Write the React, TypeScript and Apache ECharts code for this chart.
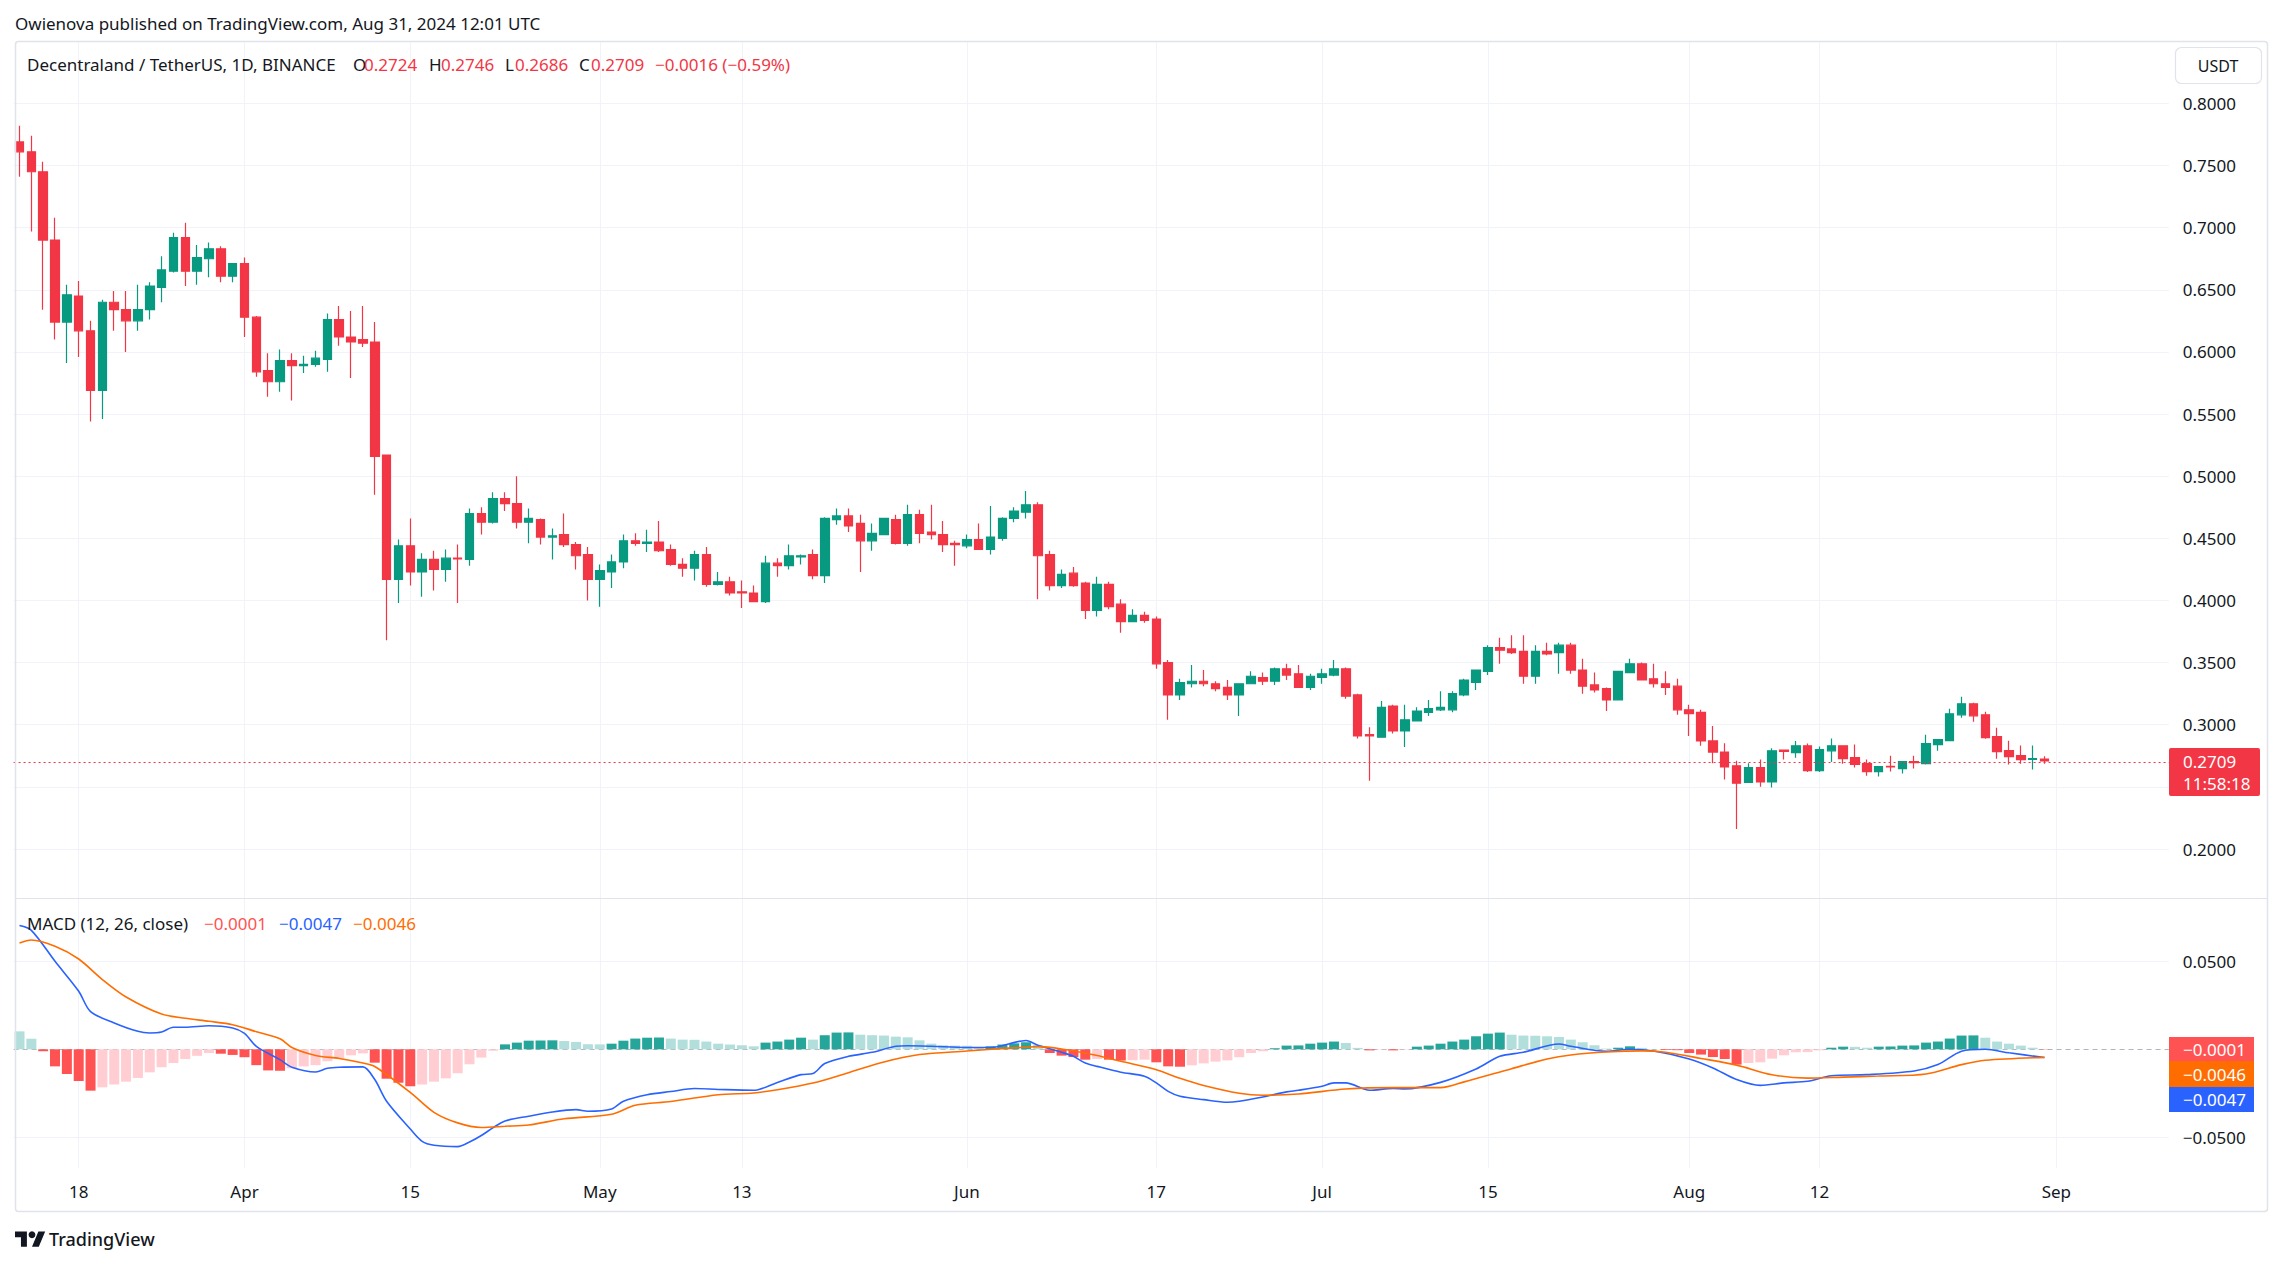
import React, { useEffect, useRef } from 'react';
import * as echarts from 'echarts';

// ---------------- DATA ----------------
const startDate = '2024-03-13';
const emptyDaysAfter = 10;

// daily candles [open, high, low, close]
const ohlc: number[][] = [
  [0.769, 0.782, 0.741, 0.761], [0.761, 0.774, 0.697, 0.745], [0.745, 0.753, 0.634, 0.690], [0.690, 0.708, 0.610, 0.624],
  [0.624, 0.654, 0.591, 0.646], [0.645, 0.657, 0.596, 0.617], [0.617, 0.625, 0.544, 0.569], [0.569, 0.642, 0.546, 0.640],
  [0.640, 0.649, 0.617, 0.634], [0.634, 0.649, 0.600, 0.625], [0.625, 0.654, 0.617, 0.634], [0.634, 0.656, 0.626, 0.653],
  [0.652, 0.677, 0.640, 0.666], [0.665, 0.696, 0.664, 0.692], [0.692, 0.704, 0.653, 0.665], [0.665, 0.686, 0.654, 0.676],
  [0.675, 0.688, 0.660, 0.683], [0.683, 0.685, 0.656, 0.661], [0.661, 0.671, 0.656, 0.671], [0.671, 0.676, 0.612, 0.628],
  [0.628, 0.629, 0.580, 0.584], [0.585, 0.599, 0.564, 0.576], [0.576, 0.602, 0.568, 0.593], [0.593, 0.599, 0.561, 0.589],
  [0.589, 0.597, 0.583, 0.590], [0.590, 0.601, 0.588, 0.595], [0.594, 0.631, 0.584, 0.626], [0.626, 0.637, 0.605, 0.612],
  [0.612, 0.633, 0.579, 0.608], [0.610, 0.637, 0.604, 0.607], [0.608, 0.624, 0.485, 0.516], [0.517, 0.517, 0.368, 0.417],
  [0.417, 0.449, 0.398, 0.444], [0.444, 0.466, 0.412, 0.423], [0.423, 0.438, 0.403, 0.433], [0.433, 0.440, 0.408, 0.425],
  [0.425, 0.441, 0.415, 0.434], [0.434, 0.445, 0.398, 0.4335], [0.433, 0.474, 0.428, 0.470], [0.470, 0.475, 0.453, 0.463],
  [0.463, 0.487, 0.462, 0.482], [0.482, 0.487, 0.472, 0.478], [0.478, 0.500, 0.458, 0.463], [0.463, 0.474, 0.446, 0.466],
  [0.465, 0.466, 0.445, 0.451], [0.451, 0.458, 0.433, 0.452], [0.453, 0.470, 0.443, 0.445], [0.445, 0.447, 0.425, 0.436],
  [0.437, 0.443, 0.400, 0.417], [0.417, 0.429, 0.395, 0.424], [0.423, 0.437, 0.410, 0.431], [0.431, 0.453, 0.426, 0.448],
  [0.448, 0.454, 0.444, 0.446], [0.446, 0.457, 0.439, 0.447], [0.447, 0.464, 0.439, 0.440], [0.441, 0.445, 0.428, 0.429],
  [0.429, 0.434, 0.419, 0.426], [0.426, 0.440, 0.416, 0.437], [0.437, 0.443, 0.411, 0.413], [0.413, 0.423, 0.412, 0.415],
  [0.415, 0.419, 0.404, 0.406], [0.407, 0.416, 0.394, 0.406], [0.406, 0.412, 0.399, 0.399], [0.399, 0.436, 0.398, 0.430],
  [0.430, 0.434, 0.419, 0.428], [0.428, 0.445, 0.425, 0.436], [0.435, 0.437, 0.429, 0.436], [0.437, 0.441, 0.417, 0.420],
  [0.420, 0.467, 0.414, 0.466], [0.465, 0.474, 0.461, 0.468], [0.468, 0.474, 0.455, 0.460], [0.462, 0.469, 0.423, 0.448],
  [0.448, 0.462, 0.440, 0.454], [0.453, 0.466, 0.453, 0.466], [0.465, 0.469, 0.445, 0.446], [0.446, 0.477, 0.444, 0.469],
  [0.469, 0.473, 0.446, 0.454], [0.455, 0.477, 0.449, 0.453], [0.453, 0.464, 0.439, 0.445], [0.446, 0.448, 0.428, 0.445],
  [0.444, 0.453, 0.442, 0.449], [0.449, 0.462, 0.441, 0.441], [0.441, 0.476, 0.437, 0.451], [0.450, 0.467, 0.448, 0.466],
  [0.466, 0.475, 0.463, 0.472], [0.471, 0.488, 0.466, 0.477], [0.477, 0.479, 0.401, 0.436], [0.437, 0.440, 0.408, 0.412],
  [0.412, 0.425, 0.410, 0.421], [0.422, 0.427, 0.411, 0.412], [0.414, 0.415, 0.385, 0.392], [0.392, 0.419, 0.387, 0.413],
  [0.413, 0.415, 0.393, 0.395], [0.397, 0.401, 0.374, 0.383], [0.383, 0.393, 0.383, 0.388], [0.388, 0.391, 0.382, 0.384],
  [0.385, 0.387, 0.345, 0.349], [0.350, 0.352, 0.304, 0.324], [0.324, 0.337, 0.320, 0.334], [0.333, 0.348, 0.330, 0.335],
  [0.335, 0.344, 0.331, 0.333], [0.333, 0.335, 0.327, 0.329], [0.330, 0.336, 0.320, 0.324], [0.324, 0.333, 0.307, 0.333],
  [0.333, 0.343, 0.333, 0.339], [0.338, 0.342, 0.332, 0.335], [0.335, 0.346, 0.332, 0.345], [0.345, 0.349, 0.336, 0.340],
  [0.341, 0.348, 0.330, 0.330], [0.330, 0.341, 0.328, 0.339], [0.338, 0.345, 0.333, 0.341], [0.340, 0.352, 0.339, 0.345],
  [0.345, 0.346, 0.321, 0.323], [0.324, 0.325, 0.289, 0.291], [0.292, 0.298, 0.255, 0.291], [0.290, 0.319, 0.290, 0.314],
  [0.315, 0.316, 0.293, 0.295], [0.295, 0.316, 0.282, 0.304], [0.303, 0.314, 0.303, 0.311], [0.310, 0.320, 0.307, 0.313],
  [0.312, 0.327, 0.311, 0.314], [0.312, 0.327, 0.310, 0.325], [0.324, 0.337, 0.323, 0.336], [0.334, 0.344, 0.328, 0.344],
  [0.343, 0.364, 0.340, 0.362], [0.362, 0.370, 0.349, 0.360], [0.361, 0.372, 0.357, 0.358], [0.359, 0.372, 0.333, 0.339],
  [0.339, 0.364, 0.333, 0.359], [0.359, 0.366, 0.356, 0.357], [0.358, 0.366, 0.341, 0.364], [0.364, 0.366, 0.341, 0.344],
  [0.344, 0.353, 0.325, 0.331], [0.332, 0.342, 0.326, 0.328], [0.329, 0.330, 0.311, 0.320], [0.320, 0.343, 0.320, 0.343],
  [0.342, 0.353, 0.342, 0.349], [0.349, 0.350, 0.336, 0.336], [0.337, 0.349, 0.330, 0.333], [0.333, 0.343, 0.324, 0.330],
  [0.331, 0.337, 0.308, 0.312], [0.312, 0.316, 0.291, 0.309], [0.310, 0.312, 0.283, 0.287], [0.287, 0.299, 0.269, 0.278],
  [0.278, 0.285, 0.256, 0.266], [0.267, 0.271, 0.216, 0.253], [0.2535, 0.269, 0.2535, 0.2655], [0.2655, 0.272, 0.250, 0.254],
  [0.254, 0.281, 0.2495, 0.279], [0.2795, 0.280, 0.272, 0.2785], [0.2775, 0.287, 0.2735, 0.283], [0.283, 0.2848, 0.262, 0.263],
  [0.263, 0.2824, 0.262, 0.280], [0.279, 0.289, 0.270, 0.283], [0.283, 0.283, 0.2687, 0.2727], [0.2735, 0.284, 0.2655, 0.268],
  [0.2687, 0.272, 0.259, 0.2623], [0.2623, 0.2663, 0.2583, 0.2663], [0.2665, 0.275, 0.2623, 0.266], [0.2647, 0.2703, 0.2607, 0.2703],
  [0.2703, 0.275, 0.2647, 0.2695], [0.2687, 0.292, 0.268, 0.2848], [0.284, 0.288, 0.279, 0.288], [0.2872, 0.3128, 0.2872, 0.3088],
  [0.308, 0.3225, 0.3056, 0.3168], [0.3168, 0.3177, 0.3024, 0.3072], [0.308, 0.3104, 0.2888, 0.2896], [0.2904, 0.2976, 0.2727, 0.2783],
  [0.2791, 0.2872, 0.2679, 0.2743], [0.2751, 0.2832, 0.2687, 0.2719], [0.2722, 0.2832, 0.2639, 0.2727], [0.2724, 0.2746, 0.2686, 0.2709],
];

// MACD histogram, one bar per day
const histogram: number[] = [
  0.0102, 0.0060, -0.0011, -0.0097, -0.0140, -0.0180, -0.0235, -0.0216, -0.0200, -0.0184,
  -0.0163, -0.0131, -0.0102, -0.0078, -0.0055, -0.0037, -0.0021, -0.0025, -0.0032, -0.0045,
  -0.0090, -0.0120, -0.0122, -0.0108, -0.0097, -0.0090, -0.0068, -0.0053, -0.0034, -0.0023,
  -0.0076, -0.0167, -0.0190, -0.0210, -0.0200, -0.0184, -0.0165, -0.0136, -0.0085, -0.0047,
  -0.0008, 0.0028, 0.0038, 0.0049, 0.0050, 0.0051, 0.0047, 0.0042, 0.0029, 0.0028,
  0.0032, 0.0049, 0.0061, 0.0066, 0.0067, 0.0061, 0.0055, 0.0054, 0.0044, 0.0032,
  0.0027, 0.0023, 0.0017, 0.0038, 0.0044, 0.0055, 0.0066, 0.0055, 0.0080, 0.0095,
  0.0096, 0.0083, 0.0080, 0.0078, 0.0072, 0.0068, 0.0051, 0.0032, 0.0023, 0.0021,
  0.0020, 0.0011, 0.0017, 0.0027, 0.0034, 0.0040, 0.0025, -0.0021, -0.0036, -0.0044,
  -0.0059, -0.0055, -0.0059, -0.0064, -0.0062, -0.0059, -0.0074, -0.0097, -0.0099, -0.0091,
  -0.0080, -0.0070, -0.0063, -0.0045, -0.0021, -0.0011, 0.0006, 0.0021, 0.0022, 0.0032,
  0.0038, 0.0044, 0.0036, 0.0008, -0.0006, -0.0002, -0.0006, -0.0002, 0.0015, 0.0021,
  0.0032, 0.0044, 0.0055, 0.0074, 0.0089, 0.0095, 0.0083, 0.0078, 0.0077, 0.0074,
  0.0070, 0.0055, 0.0040, 0.0023, 0.0004, 0.0009, 0.0017, 0.0008, 0.0001, -0.0004,
  -0.0005, -0.0021, -0.0030, -0.0044, -0.0055, -0.0087, -0.0078, -0.0074, -0.0053, -0.0034,
  -0.0017, -0.0016, -0.0006, 0.0009, 0.0015, 0.0014, 0.0009, 0.0015, 0.0016, 0.0021,
  0.0022, 0.0038, 0.0044, 0.0061, 0.0078, 0.0079, 0.0066, 0.0044, 0.0032, 0.0021,
  0.0009, -0.0001,
];

// MACD line, read at [day index, value]
const macdLine: number[][] = [
  [0, 0.0703], [1, 0.0676], [3, 0.050], [5, 0.033], [6, 0.0214], [8, 0.015], [10, 0.0102], [11, 0.0093],
  [12, 0.0098], [13, 0.0125], [14, 0.0125], [16, 0.0134], [18, 0.0121], [19, 0.0090], [20, 0.0017], [22, -0.0059],
  [23, -0.0102], [25, -0.0129], [26, -0.0108], [27, -0.0102], [29, -0.0100], [30, -0.0172], [31, -0.0295], [33, -0.0453],
  [34, -0.0523], [35, -0.0545], [37, -0.0553], [38, -0.0527], [39, -0.0490], [40, -0.0445], [41, -0.0407], [43, -0.0380],
  [45, -0.0356], [47, -0.0343], [48, -0.0352], [50, -0.0339], [51, -0.0295], [53, -0.0258], [55, -0.0240], [57, -0.0223],
  [59, -0.0228], [62, -0.0233], [64, -0.0188], [66, -0.0144], [67, -0.0138], [68, -0.0081], [70, -0.0040], [72, -0.0017],
  [74, 0.0017], [75, 0.0020], [77, 0.0017], [80, 0.0010], [82, 0.0010], [85, 0.0050], [86, 0.0023], [88, -0.0017],
  [89, -0.0040], [90, -0.0078], [91, -0.0097], [93, -0.0130], [95, -0.0153], [96, -0.0191], [97, -0.0239], [98, -0.0267],
  [100, -0.0286], [102, -0.0301], [103, -0.0295], [105, -0.0271], [107, -0.0242], [108, -0.0233], [110, -0.0210], [111, -0.0191],
  [112, -0.0191], [114, -0.0233], [116, -0.0222], [117, -0.0225], [120, -0.0188], [123, -0.0112], [125, -0.0040], [127, -0.0017],
  [130, 0.0030], [131, 0.0017], [134, -0.0011], [136, 0.0000], [138, -0.0010], [141, -0.0055], [143, -0.0106], [145, -0.0172],
  [147, -0.0205], [149, -0.0191], [151, -0.0182], [153, -0.0150], [156, -0.0144], [160, -0.0123], [162, -0.0087], [164, -0.0011],
  [166, 0.0000], [168, -0.0020], [171, -0.0047],
];

// signal line, read at [day index, value]
const signalLine: number[][] = [
  [0, 0.0604], [1, 0.0621], [3, 0.0585], [5, 0.0513], [7, 0.0396], [9, 0.0297], [12, 0.0200], [14, 0.0176],
  [16, 0.0159], [18, 0.0140], [20, 0.0100], [22, 0.0060], [23, 0.0010], [25, -0.0035], [27, -0.0052], [29, -0.0078],
  [30, -0.0098], [33, -0.0245], [35, -0.0358], [37, -0.0418], [39, -0.0444], [41, -0.0437], [43, -0.0430], [46, -0.0395],
  [50, -0.0369], [52, -0.0318], [55, -0.0297], [59, -0.0258], [62, -0.0248], [64, -0.0230], [67, -0.0192], [70, -0.0133],
  [73, -0.0072], [76, -0.0030], [80, -0.0010], [83, 0.0005], [85, 0.0012], [86, 0.0015], [88, 0.0002], [91, -0.0035],
  [93, -0.0068], [96, -0.0116], [98, -0.0165], [100, -0.0206], [103, -0.0250], [105, -0.0261], [108, -0.0254], [112, -0.0226],
  [116, -0.0218], [120, -0.0218], [122, -0.0185], [126, -0.0110], [129, -0.0055], [131, -0.0032], [134, -0.0015], [137, -0.0009],
  [139, -0.0017], [142, -0.0052], [145, -0.0090], [148, -0.0145], [151, -0.0164], [154, -0.0158], [157, -0.0152], [161, -0.0140],
  [164, -0.0087], [166, -0.0062], [171, -0.0046],
];

const timeTickIndex = [5, 19, 33, 49, 61, 80, 96, 110, 124, 141, 152, 172];
const timeTickText = ['18', 'Apr', '15', 'May', '13', 'Jun', '17', 'Jul', '15', 'Aug', '12', 'Sep'];
const priceTickLabels = ['0.8000', '0.7500', '0.7000', '0.6500', '0.6000', '0.5500', '0.5000', '0.4500', '0.4000', '0.3500', '0.3000', '0.2000'];
const macdTickLabels = ['0.0500', '\u22120.0500'];
const lastPrice = 0.2709;

// ---------------- LAYOUT / STYLE ----------------
const W = 2283;
const H = 1265;
const FONT = '"Noto Sans", "Open Sans", sans-serif';
const UP = '#089981';
const DOWN = '#f23645';
const GRID_C = '#f0f3fa';
const BORDER_C = '#e0e3eb';
const TEXT_C = '#131722';
const STEP = 11.842;
const X0 = 19.5;

const TV_PATH = 'M14 22H7V11H0V4h14v18zM28 22h-8l7.5-18h8L28 22z';
try {
  echarts.graphic.registerShape('tvlogo', echarts.graphic.extendPath(TV_PATH, {}) as any);
} catch (e) { /* ignore */ }

function buildCategories(n: number): string[] {
  const out: string[] = [];
  const d0 = new Date(startDate + 'T00:00:00Z');
  for (let i = 0; i < n; i++) {
    const d = new Date(d0.getTime() + i * 86400000);
    out.push(d.toISOString().slice(0, 10));
  }
  return out;
}

function txt(x: number, y: number, text: string, fill: string, fontSize = 17, extra: any = {}) {
  return {
    type: 'text', x, y, silent: true, z: 10,
    style: { text, fill, font: `${extra.fontWeight || 'normal'} ${fontSize}px ${FONT}`, textVerticalAlign: 'middle', verticalAlign: 'middle', textAlign: extra.align || 'left', align: extra.align || 'left' },
  };
}

export default function App() {
  const ref = useRef<HTMLDivElement>(null);

  useEffect(() => {
    document.body.style.margin = '0';
    const el = ref.current;
    if (!el) return;
    const chart = echarts.init(el, undefined, { renderer: 'svg' });

    const nCat = ohlc.length + emptyDaysAfter;
    const cats = buildCategories(nCat);
    const candleData = ohlc.map(([o, h, l, c]) => [o, c, l, h]);
    const histData = histogram.map((v, i) => {
      const prev = i > 0 ? histogram[i - 1] : Infinity;
      let color: string;
      if (v >= 0) color = v > prev ? '#26a69a' : '#b2dfdb';
      else color = v < prev ? '#ff5252' : '#ffcdd2';
      return { value: v, itemStyle: { color } };
    });

    const bandLeft = X0 - STEP / 2;
    const bandWidth = nCat * STEP;
    const lineWidth = (nCat - 1) * STEP;

    // price pane: 0.8 at y=103.4, 0.2 at y=849
    const pxPerUnit = (849 - 103.4) / 0.6;
    const priceTop = 103.4 - (0.85 - 0.8) * pxPerUnit;
    const priceBottom = 849 + (0.2 - 0.15) * pxPerUnit;
    // macd pane: 0.05 at 961.3, -0.05 at 1137.3
    const mPx = (1137.3 - 961.3) / 0.1;
    const macdTop = 961.3 - 0.05 * mPx;
    const macdBottom = 1137.3 + 0.05 * mPx;

    const isTick = (i: number) => timeTickIndex.indexOf(i) >= 0;

    const option: any = {
      animation: false,
      backgroundColor: '#ffffff',
      grid: [
        { left: bandLeft, width: bandWidth, top: priceTop, height: priceBottom - priceTop },
        { left: bandLeft, width: bandWidth, top: macdTop, height: macdBottom - macdTop },
        { left: X0, width: lineWidth, top: 41.5, height: 1168 - 41.5 },
      ],
      xAxis: [
        { gridIndex: 0, type: 'category', data: cats, boundaryGap: true, show: false },
        { gridIndex: 1, type: 'category', data: cats, boundaryGap: true, show: false },
        {
          gridIndex: 2, type: 'category', data: cats, boundaryGap: false,
          axisLine: { show: false }, axisTick: { show: false },
          axisLabel: {
            interval: (i: number) => isTick(i),
            formatter: (_v: string, i: number) => { const k = timeTickIndex.indexOf(i); return k >= 0 ? timeTickText[k] : ''; },
            margin: 15, fontSize: 17, color: TEXT_C, fontFamily: FONT,
          },
          splitLine: { show: true, interval: (i: number) => isTick(i), lineStyle: { color: GRID_C, width: 1 } },
        },
      ],
      yAxis: [
        {
          gridIndex: 0, type: 'value', position: 'right', min: 0.15, max: 0.85, interval: 0.05,
          axisLine: { show: false }, axisTick: { show: false },
          axisLabel: {
            margin: 14, fontSize: 17, color: TEXT_C, fontFamily: FONT,
            formatter: (v: number) => { const s = v.toFixed(4); return priceTickLabels.indexOf(s) >= 0 ? s : ''; },
          },
          splitLine: { show: true, showMinLine: false, showMaxLine: false, lineStyle: { color: GRID_C, width: 1 } },
        },
        {
          gridIndex: 1, type: 'value', position: 'right', min: -0.1, max: 0.1, interval: 0.05,
          axisLine: { show: false }, axisTick: { show: false }, splitLine: { show: false },
          axisLabel: {
            margin: 14, fontSize: 17, color: TEXT_C, fontFamily: FONT,
            formatter: (v: number) => (Math.abs(v - 0.05) < 1e-9 ? macdTickLabels[0] : Math.abs(v + 0.05) < 1e-9 ? macdTickLabels[1] : ''),
          },
        },
        { gridIndex: 2, type: 'value', show: false, min: 0, max: 1 },
      ],
      series: [
        {
          type: 'candlestick', xAxisIndex: 0, yAxisIndex: 0, data: candleData, barWidth: 9,
          itemStyle: { color: UP, color0: DOWN, borderColor: UP, borderColor0: DOWN, borderWidth: 1.2 },
          markLine: {
            silent: true, symbol: ['none', 'none'], label: { show: false },
            lineStyle: { color: DOWN, type: [2, 3], width: 1 },
            data: [{ yAxis: lastPrice }],
          },
        },
        {
          type: 'bar', xAxisIndex: 1, yAxisIndex: 1, data: histData, barWidth: 10,
          markLine: {
            silent: true, symbol: ['none', 'none'], label: { show: false }, z: 1,
            data: [
              { yAxis: 0, lineStyle: { color: '#b2b5be', type: [5, 4], width: 1 } },
              { yAxis: 0.05, lineStyle: { color: GRID_C, type: 'solid', width: 1 } },
              { yAxis: -0.05, lineStyle: { color: GRID_C, type: 'solid', width: 1 } },
            ],
          },
        },
        {
          type: 'line', xAxisIndex: 1, yAxisIndex: 1, data: macdLine, showSymbol: false, smooth: 0.3,
          lineStyle: { color: '#2962ff', width: 1.6 }, z: 3,
        },
        {
          type: 'line', xAxisIndex: 1, yAxisIndex: 1, data: signalLine, showSymbol: false, smooth: 0.3,
          lineStyle: { color: '#ff6d00', width: 1.6 }, z: 3,
        },
      ],
      graphic: [
        // frame
        { type: 'rect', silent: true, z: 9, shape: { x: 15.5, y: 41.5, width: 2252, height: 1170, r: 3 }, style: { fill: 'none', stroke: BORDER_C, lineWidth: 1.5 } },
        { type: 'line', silent: true, z: 9, shape: { x1: 15, y1: 898.5, x2: 2267, y2: 898.5 }, style: { stroke: BORDER_C, lineWidth: 1.2 } },
        // top caption
        txt(15, 23, 'Owienova published on TradingView.com, Aug 31, 2024 12:01 UTC', TEXT_C, 17),
        // legend
        txt(27, 64, 'Decentraland / TetherUS, 1D, BINANCE', TEXT_C, 17),
        txt(353, 64, 'O', TEXT_C, 17), txt(364, 64, '0.2724', DOWN, 17),
        txt(429, 64, 'H', TEXT_C, 17), txt(441, 64, '0.2746', DOWN, 17),
        txt(505, 64, 'L', TEXT_C, 17), txt(515, 64, '0.2686', DOWN, 17),
        txt(579, 64, 'C', TEXT_C, 17), txt(591, 64, '0.2709', DOWN, 17),
        txt(655, 64, '\u22120.0016 (\u22120.59%)', DOWN, 17),
        // currency button
        { type: 'rect', silent: true, z: 9, shape: { x: 2175.5, y: 47.5, width: 86, height: 36, r: 6 }, style: { fill: '#ffffff', stroke: BORDER_C, lineWidth: 1.2 } },
        txt(2218, 65.5, 'USDT', TEXT_C, 16, { align: 'center' }),
        // last price tag
        { type: 'rect', silent: true, z: 9, shape: { x: 2169, y: 748, width: 91, height: 48, r: 2 }, style: { fill: DOWN } },
        txt(2183, 761, '0.2709', '#ffffff', 17),
        txt(2183, 783, '11:58:18', '#ffffff', 17),
        // MACD legend
        txt(27, 923, 'MACD (12, 26, close)', TEXT_C, 17),
        txt(204, 923, '\u22120.0001', '#ff5252', 17),
        txt(279, 923, '\u22120.0047', '#2962ff', 17),
        txt(353, 923, '\u22120.0046', '#ff6d00', 17),
        // MACD value tags
        { type: 'rect', silent: true, z: 9, shape: { x: 2169, y: 1037, width: 85, height: 24 }, style: { fill: '#ff5252' } },
        txt(2183, 1049, '\u22120.0001', '#ffffff', 17),
        { type: 'rect', silent: true, z: 9, shape: { x: 2169, y: 1061, width: 85, height: 26 }, style: { fill: '#ff6d00' } },
        txt(2183, 1074, '\u22120.0046', '#ffffff', 17),
        { type: 'rect', silent: true, z: 9, shape: { x: 2169, y: 1087, width: 85, height: 25 }, style: { fill: '#2962ff' } },
        txt(2183, 1099.5, '\u22120.0047', '#ffffff', 17),
        // TradingView logo
        { type: 'tvlogo', silent: true, z: 9, x: 15, y: 1228, scaleX: 0.85, scaleY: 0.85, style: { fill: TEXT_C } },
        { type: 'circle', silent: true, z: 9, shape: { cx: 15 + 20 * 0.85, cy: 1228 + 8 * 0.85, r: 4 * 0.85 }, style: { fill: TEXT_C } },
        txt(49, 1239, 'TradingView', TEXT_C, 18, { fontWeight: 500 }),
      ],
    };

    chart.setOption(option);
    return () => chart.dispose();
  }, []);

  return <div ref={ref} style={{ position: 'absolute', left: 0, top: 0, width: W, height: H, background: '#ffffff' }} />;
}
